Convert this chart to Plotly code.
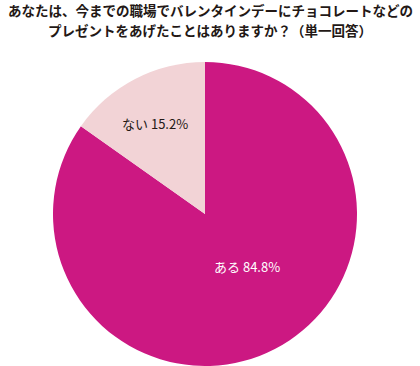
import plotly.graph_objects as go

labels = ["ある", "ない"]
values = [84.8, 15.2]
colors = ["#CC1882", "#F2D3D6"]
text_colors = ["#FFFFFF", "#231815"]
title_lines = ["あなたは、今までの職場でバレンタインデーにチョコレートなどの",
               "プレゼントをあげたことはありますか？（単一回答）"]

W, H = 420, 366
fig = go.Figure()
fig.add_trace(go.Pie(
    labels=labels, values=values, sort=False, direction="clockwise", rotation=0,
    marker=dict(colors=colors, line=dict(width=0)),
    textinfo="none", hoverinfo="label+percent", showlegend=False,
    domain=dict(x=[53 / W, 357 / W], y=[0, 1 - 62 / H]),
))

# label positions (pixel) for each slice
label_pos = [(247, 278), (155, 124)]
for lab, val, tc, (px, py) in zip(labels, values, text_colors, label_pos):
    fig.add_annotation(x=px / W, y=1 - py / H, xref="paper", yref="paper",
                       text=f"{lab} {val}%", showarrow=False,
                       font=dict(size=13, color=tc, family="Noto Sans CJK JP"))

title_y = [10.2, 30.0]
for t, py in zip(title_lines, title_y):
    fig.add_annotation(x=0.5, y=1 - py / H, xref="paper", yref="paper", yanchor="middle",
                       text=f"<b>{t}</b>", showarrow=False, borderpad=0,
                       font=dict(size=13.5, color="#231815", family="Noto Sans CJK JP"))

fig.update_layout(width=W, height=H, margin=dict(l=0, r=0, t=0, b=0),
                  paper_bgcolor="white", plot_bgcolor="white")
fig.write_html("out.html", config={"displayModeBar": False},
               post_script="document.body.style.margin='0';")
